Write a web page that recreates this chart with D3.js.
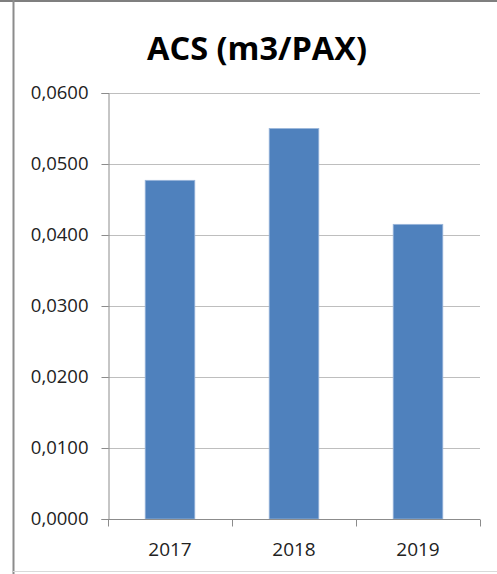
<!DOCTYPE html>
<html>
<head>
<meta charset="utf-8">
<script src="https://cdn.jsdelivr.net/npm/d3@7/dist/d3.min.js"></script>
<style>
  html, body { margin: 0; padding: 0; background: #fff; }
  svg { display: block; }
</style>
</head>
<body>
<svg id="chart" width="497" height="574"></svg>
<script>
// Chart data
const titleText = "ACS (m3/PAX)";
const years = ["2017", "2018", "2019"];
const acsValues = [0.0477, 0.0550, 0.0415];
const yTicks = [0, 0.01, 0.02, 0.03, 0.04, 0.05, 0.06];

const svg = d3.select("#chart");
const W = 497, H = 574;
const plot = { left: 108, right: 480, top: 93, bottom: 519 };

// Frame around the chart area
svg.append("line").attr("x1", 0).attr("x2", W).attr("y1", 1).attr("y2", 1)
  .attr("stroke", "#7f7f7f").attr("stroke-width", 2);
svg.append("line").attr("x1", 13.5).attr("x2", 13.5).attr("y1", 0).attr("y2", H)
  .attr("stroke", "#8c8c8c").attr("stroke-width", 2);
svg.append("line").attr("x1", 13).attr("x2", W).attr("y1", 571.5).attr("y2", 571.5)
  .attr("stroke", "#d9d9d9").attr("stroke-width", 1);

// Title
svg.append("text")
  .attr("x", 257).attr("y", 60)
  .attr("text-anchor", "middle")
  .attr("font-family", "'Open Sans', sans-serif")
  .attr("font-weight", "bold")
  .attr("font-size", 32.5)
  .attr("fill", "#000")
  .text(titleText);

// Scales
const x = d3.scaleBand().domain(years)
  .range([plot.left, plot.right])
  .paddingInner(0.6).paddingOuter(0.3);
const xCat = d3.scaleBand().domain(years).range([plot.left, plot.right]).padding(0);
const y = d3.scaleLinear().domain([0, 0.06]).range([plot.bottom, plot.top]);

const fmt = v => d3.format(".4f")(v).replace(".", ",");

// Horizontal gridlines
svg.append("g")
  .selectAll("line")
  .data(yTicks.filter(d => d > 0))
  .join("line")
  .attr("x1", plot.left).attr("x2", plot.right)
  .attr("y1", d => Math.round(y(d)) + 0.5).attr("y2", d => Math.round(y(d)) + 0.5)
  .attr("stroke", "#bebebe").attr("stroke-width", 1.2);

// Y axis
const yAxis = svg.append("g")
  .attr("transform", `translate(${plot.left + 0.5},0)`)
  .call(d3.axisLeft(y).tickValues(yTicks).tickFormat(fmt).tickSize(7).tickPadding(13));
yAxis.select(".domain").attr("stroke", "#8c8c8c");
yAxis.selectAll(".tick line").attr("stroke", "#8c8c8c");
yAxis.selectAll(".tick text")
  .attr("font-family", "'Open Sans', sans-serif")
  .attr("font-size", 18.5)
  .attr("fill", "#222");

// Bars
svg.append("g")
  .selectAll("rect")
  .data(years.map((yr, i) => ({ yr, v: acsValues[i] })))
  .join("rect")
  .attr("x", d => x(d.yr))
  .attr("y", d => y(d.v))
  .attr("width", x.bandwidth())
  .attr("height", d => y(0) - y(d.v))
  .attr("fill", "#4f81bd")
  .attr("stroke", "#9ab6da")
  .attr("stroke-width", 0.8);

// X axis with ticks on category boundaries
const xg = svg.append("g").attr("transform", `translate(0,${plot.bottom + 0.5})`);
xg.append("line").attr("x1", plot.left).attr("x2", plot.right)
  .attr("stroke", "#8c8c8c");
const bounds = years.map(d => xCat(d)).concat([plot.right]);
xg.selectAll("line.tk").data(bounds).join("line").attr("class", "tk")
  .attr("x1", d => Math.round(d) + 0.5).attr("x2", d => Math.round(d) + 0.5)
  .attr("y1", 0).attr("y2", 7)
  .attr("stroke", "#8c8c8c");
xg.selectAll("text").data(years).join("text")
  .attr("x", d => xCat(d) + xCat.bandwidth() / 2)
  .attr("y", 36)
  .attr("text-anchor", "middle")
  .attr("font-family", "'Open Sans', sans-serif")
  .attr("font-size", 19)
  .attr("fill", "#222")
  .text(d => d);
</script>
</body>
</html>
